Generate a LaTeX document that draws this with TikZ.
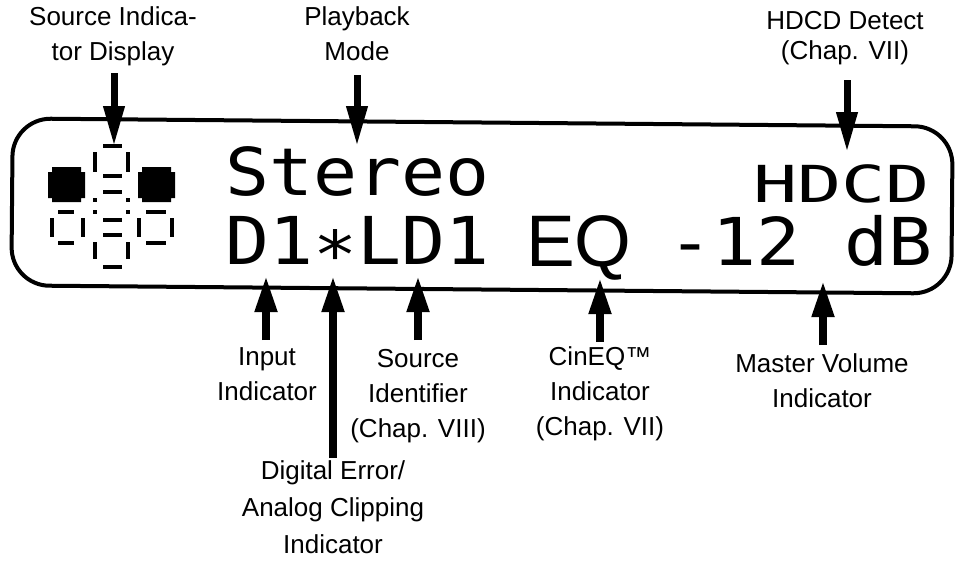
\documentclass[tikz,border=0pt]{standalone}
\usepackage{fontspec}
\setmainfont{Liberation Sans}
\newfontfamily\lcdfont[FakeStretch=1.108]{DejaVu Sans Mono}
\newfontfamily\lcdsmall[FakeStretch=1.44]{DejaVu Sans Mono}
\usetikzlibrary{arrows.meta}
\begin{document}
\begin{tikzpicture}[x=1pt,y=-1pt,
  lbl/.style={font=\fontsize{26}{35}\selectfont, align=center, inner sep=0pt, anchor=base},
  toparrow/.style={line width=7pt, -{Triangle[length=40pt,width=20pt]}},
  botarrow/.style={line width=7.5pt, -{Triangle[length=36pt,width=21pt]}},
  lcdtext/.style={font=\lcdfont\fontsize{66}{66}\selectfont, inner sep=0pt, anchor=base west},
  lcdsmalltext/.style={font=\lcdsmall\fontsize{51}{51}\selectfont, inner sep=0pt, anchor=base west},
  seg/.style={line width=3.5pt},
  blob/.style={fill=black},
]
\useasboundingbox (0,0) rectangle (956,560);

% display frame
\node[draw, line width=4pt, rounded corners=38pt, minimum width=940pt, minimum height=167pt,
      inner sep=0pt, rotate=-0.5] (lcd) at (482,206) {};

% display text
\node[lcdtext] (stereo) at (225,195) {Stereo};
\node[lcdsmalltext] (hdcdtxt) at (753,202) {HDCD};
\node[lcdtext] (input) at (225,264) {D1\raisebox{-0.22em}{*}LD1};
\node[font=\fontsize{73}{73}\selectfont, inner sep=0pt, anchor=base west] (eq) at (526,266) {EQ};
\node[lcdtext] (vol) at (668,265) {-12 dB};

% source indicator icon
\fill[blob] (52,167) -- (81,167) -- (81,172) -- (85,172) -- (85,198) -- (81,198) -- (81,202)
   -- (52,202) -- (52,198) -- (48,198) -- (48,172) -- (52,172) -- cycle;
\fill[blob] (142,167) -- (171,167) -- (171,172) -- (175,172) -- (175,198) -- (171,198) -- (171,202)
   -- (142,202) -- (142,198) -- (138,198) -- (138,172) -- (142,172) -- cycle;
\draw[seg] (103,146) -- (122,146);
\draw[seg] (95,152) -- (95,172);
\draw[seg] (128,152) -- (128,172);
\draw[seg] (103,176) -- (122,176);
\draw[seg] (103,192) -- (122,192);
\draw[seg] (95,198) -- (95,202);
\draw[seg] (128,198) -- (128,202);
\draw[seg] (95,210) -- (95,214);
\draw[seg] (128,210) -- (128,214);
\draw[seg] (103,220) -- (122,220);
\draw[seg] (103,235) -- (122,235);
\draw[seg] (95,242) -- (95,259);
\draw[seg] (128,242) -- (128,259);
\draw[seg] (103,267) -- (122,267);
\draw[seg] (58,212) -- (74,212);
\draw[seg] (52,218) -- (52,237);
\draw[seg] (83,218) -- (83,237);
\draw[seg] (58,243) -- (74,243);
\draw[seg] (146,212) -- (166,212);
\draw[seg] (139,218) -- (139,237);
\draw[seg] (172,218) -- (172,237);
\draw[seg] (146,243) -- (166,243);

% labels (anchor = baseline of last line)
\node[lbl] (lsrc) at (113,60) {Source Indica-\\tor Display};
\node[lbl] (lplay) at (357,60) {Playback\\Mode};
\node[lbl, font=\fontsize{26}{30}\selectfont] (lhdcd) at (845,59) {HDCD Detect\\(Chap. VII)};
\node[lbl] (linput) at (267,400) {Input\\Indicator};
\node[lbl] (lsrcid) at (418,437) {Source\\Identifier\\(Chap. VIII)};
\node[lbl, font=\fontsize{26}{37}\selectfont] (lerr) at (333,553) {Digital Error/\\Analog Clipping\\Indicator};
\node[lbl] (lcineq) at (600,435) {CinEQ™\\Indicator\\(Chap. VII)};
\node[lbl] (lmaster) at (822,407) {Master Volume\\Indicator};

% arrow end points
\coordinate (s1) at (114,73);  \coordinate (e1) at (114,146);
\coordinate (s2) at (357,75);  \coordinate (e2) at (357,146);
\coordinate (s3) at (847,80);  \coordinate (e3) at (847,152);
\coordinate (s4) at (266,340); \coordinate (e4) at (266,276);
\coordinate (s5) at (333,458); \coordinate (e5) at (333,276);
\coordinate (s6) at (418,340); \coordinate (e6) at (418,276);
\coordinate (s7) at (600,342); \coordinate (e7) at (600,278);
\coordinate (s8) at (823,345); \coordinate (e8) at (823,281);

\draw[toparrow] (s1) -- (e1);
\draw[toparrow] (s2) -- (e2);
\draw[toparrow] (s3) -- (e3);
\draw[botarrow] (s4) -- (e4);
\draw[botarrow] (s5) -- (e5);
\draw[botarrow] (s6) -- (e6);
\draw[botarrow] (s7) -- (e7);
\draw[botarrow] (s8) -- (e8);
\end{tikzpicture}
\end{document}
